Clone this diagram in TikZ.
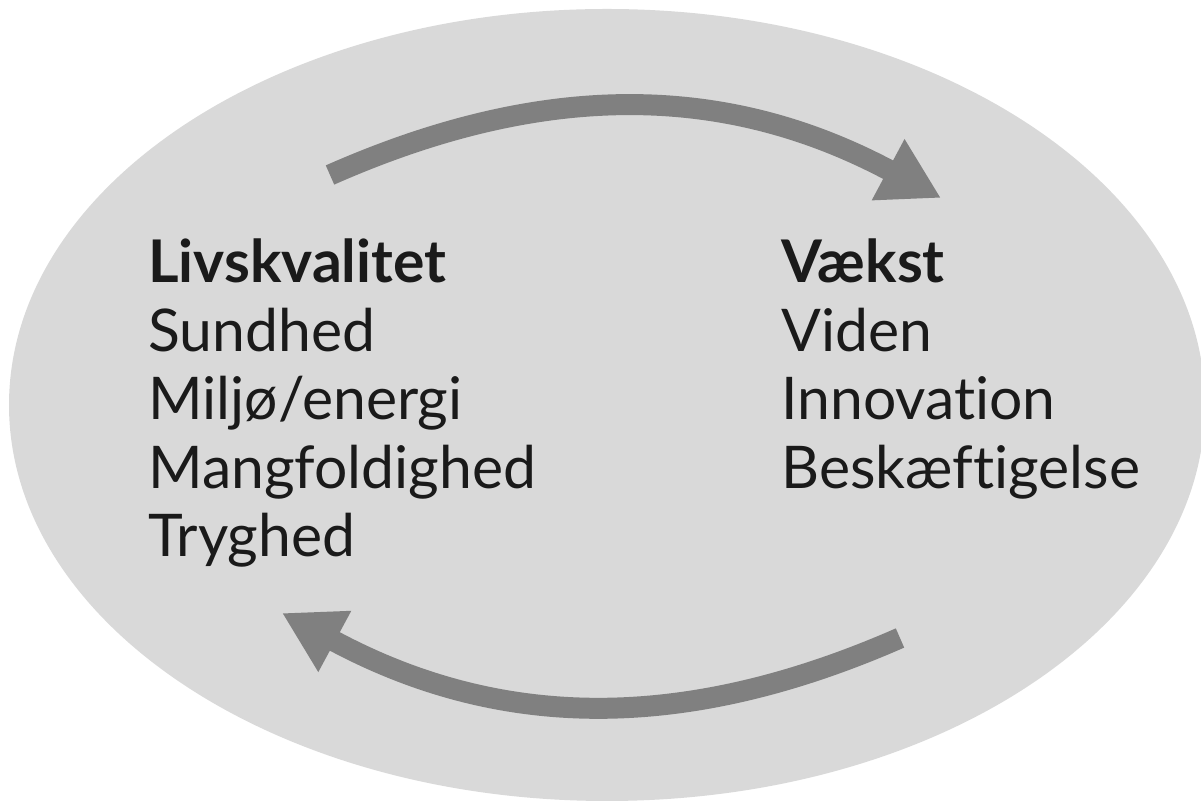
\documentclass[tikz,border=0pt]{standalone}
\usepackage{fontspec}
\setmainfont[Ligatures = NoCommon]{Lato}
\usepackage{tikz}
\usetikzlibrary{arrows.meta}
\definecolor{lgray}{RGB}{217, 217, 217}
\definecolor{dgray}{RGB}{128, 128, 128}
\definecolor{ink}{RGB}{26, 26, 26}

\begin{document}
\begin{tikzpicture}[x = 0.02cm, y = 0.02cm,
	word/.style = {anchor = base west, inner sep = 0pt, text = ink, font = \fontsize{33.5}{40}\selectfont},
	title/.style = {word, font = \fontsize{33.5}{40}\selectfont\bfseries},
	cyclearrow/.style = {draw = dgray, line width = 0.42cm, -{Triangle[length = 1.2cm, width = 1.3cm]}}]
			\useasboundingbox (0,0) rectangle (1201,804);
			\clip (0,0) rectangle (1201,804);
			\fill[lgray] (607,399) ellipse [x radius = 598, y radius = 396];
			% arrow ends
			\coordinate (t1) at (330,629);
			\coordinate (t2) at (941,606);
			\coordinate (b1) at (900,166);
			\coordinate (b2) at (282,191);
			\draw[cyclearrow] (t1) to[bend left = 26] (t2);
			\draw[cyclearrow] (b1) to[bend left = 26] (b2);
			% left column
			\node (liv) at (148,521) [title] {Livskvalitet};
			\node (sund) at (148,452.5) [word] {Sundhed};
			\node (milj) at (148,384) [word] {Miljø/energi};
			\node (mang) at (148,315.5) [word] {Mangfoldighed};
			\node (tryg) at (148,247) [word] {Tryghed};
			% right column
			\node (vaekst) at (781,521) [title] {Vækst};
			\node (viden) at (781,452.5) [word] {Viden};
			\node (innov) at (781,384) [word] {Innovation};
			\node (besk) at (781,315.5) [word] {Beskæftigelse};
			\end{tikzpicture}
\end{document}
